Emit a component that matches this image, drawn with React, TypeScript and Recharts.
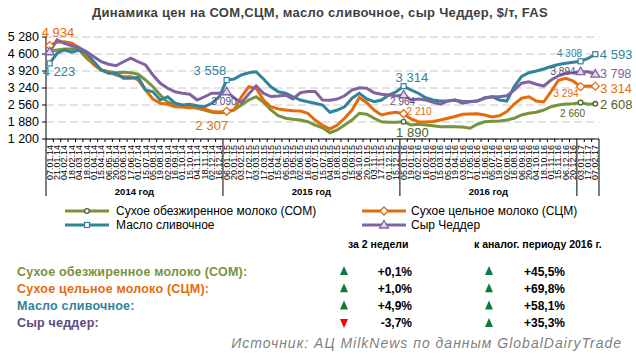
import React from "react";
import { LineChart, Line, XAxis, YAxis, CartesianGrid } from "recharts";

const dates = [
  "07.01.14", "21.01.14", "04.02.14", "18.02.14", "04.03.14", "18.03.14", "01.04.14", "15.04.14", "06.05.14", "20.05.14", "03.06.14", "17.06.14",
  "01.07.14", "15.07.14", "05.08.14", "19.08.14", "02.09.14", "16.09.14", "01.10.14", "15.10.14", "04.11.14", "18.11.14", "02.12.14", "16.12.14",
  "06.01.15", "20.01.15", "03.02.15", "17.02.15", "03.03.15", "17.03.15", "01.04.15", "15.04.15", "05.05.15", "19.05.15", "02.06.15", "16.06.15",
  "01.07.15", "15.07.15", "04.08.15", "18.08.15", "01.09.15", "15.09.15", "06.10.15", "20.10.15", "03.11.15", "17.11.15", "01.12.15", "15.12.15",
  "05.01.16", "19.01.16", "02.02.16", "16.02.16", "01.03.16", "15.03.16", "05.04.16", "19.04.16", "03.05.16", "17.05.16", "01.06.16", "15.06.16",
  "05.07.16", "19.07.16", "02.08.16", "16.08.16", "06.09.16", "20.09.16", "04.10.16", "18.10.16", "01.11.16", "15.11.16", "06.12.16", "20.12.16",
  "03.01.17", "17.01.17", "07.02.17",
];

// СОМ
const som = [
  4690, 4760, 4800, 4800, 4760, 4430, 4190, 3960, 3890, 3850, 3870, 3850, 3790, 3560, 3290, 2960, 2670, 2560, 2520, 2490, 2430, 2360, 2270, 2250,
  2270, 2360, 2560, 2760, 2890, 2670, 2360, 2130, 2030, 1990, 1960, 1890, 1760, 1650, 1450, 1560, 1760, 1960, 2230, 2190, 2030, 1890, 1870, 1870,
  1890, 1760, 1790, 1760, 1730, 1690, 1690, 1690, 1680, 1630, 1790, 1890, 1910, 1920, 1960, 2030, 2160, 2230, 2270, 2360, 2490, 2560, 2600, 2610,
  2660, 2590, 2608,
];
// СЦМ
const scm = [
  4934, 5070, 5090, 5030, 4850, 4560, 4160, 3960, 3890, 3760, 3690, 3690, 3560, 3160, 2800, 2630, 2590, 2490, 2480, 2440, 2480, 2400, 2300, 2280,
  2307, 2360, 2890, 3290, 3230, 2760, 2490, 2400, 2360, 2330, 2320, 2230, 1960, 1750, 1600, 1760, 2030, 2360, 2850, 2650, 2360, 2160, 2230, 2270,
  2210, 2000, 1890, 1880, 1900, 1960, 2030, 2100, 2190, 2200, 2210, 2160, 2080, 2130, 2300, 2600, 2830, 2890, 2720, 2680, 3100, 3550, 3630, 3520,
  3294, 3320, 3314,
];
// масло сливочное
const butter = [
  4223, 4630, 4760, 4670, 4760, 4630, 4290, 3960, 3830, 3830, 3630, 3630, 3670, 3160, 3090, 2760, 2890, 2630, 2560, 2590, 2530, 2490, 2630, 2890,
  3558, 3600, 3760, 3850, 3890, 3600, 3290, 3090, 3030, 2890, 2760, 2690, 2630, 2560, 2270, 2360, 2490, 2830, 3030, 2800, 2690, 2760, 2960, 3090,
  3314, 3160, 3030, 2850, 2760, 2720, 2720, 2760, 2630, 2690, 2720, 2830, 2890, 2760, 2720, 3300, 3700, 3850, 3920, 4000, 4100, 4180, 4230, 4270,
  4308, 4420, 4593,
];
// сыр Чеддер
const cheddar = [
  4690, 5160, 5030, 4930, 4850, 4690, 4490, 4290, 4190, 4130, 4290, 4430, 4290, 4160, 3760, 3430, 3230, 3090, 3030, 2990, 2760, 2890, 3030, 3030,
  3090, 2850, 2650, 3000, 3320, 3030, 2900, 2920, 2950, 2800, 3050, 3100, 3100, 2760, 2750, 2800, 2930, 3160, 3250, 3230, 3050, 2990, 2960, 2920,
  2964, 2760, 2800, 2760, 2670, 2590, 2720, 2760, 2700, 2700, 2720, 2850, 2890, 2890, 2930, 3160, 3430, 3490, 3390, 3320, 3560, 3730, 3830, 3850,
  3894, 3890, 3798,
];

const yTicks = [1200, 1880, 2560, 3240, 3920, 4600, 5280];
const yearNames: Record<string, string> = { "14": "2014 год", "15": "2015 год", "16": "2016 год" };

const tableRows = [
  { name: "Сухое обезжиренное молоко (СОМ):", color: "#77933C", w2: "+0,1%", up2: true, yr: "+45,5%", upYr: true },
  { name: "Сухое цельное молоко (СЦМ):", color: "#E46C0A", w2: "+1,0%", up2: true, yr: "+69,8%", upYr: true },
  { name: "Масло сливочное:", color: "#31849B", w2: "+4,9%", up2: true, yr: "+58,1%", upYr: true },
  { name: "Сыр чеддер:", color: "#604A7B", w2: "-3,7%", up2: false, yr: "+35,3%", upYr: true },
];

const data = dates.map((d, i) => ({ d, som: som[i], scm: scm[i], butter: butter[i], cheddar: cheddar[i] }));

const FONT = "'Liberation Sans', Arial, sans-serif";
const W = 636;
const H = 200;
const LEFT = 46;
const RIGHT = 37;
const STEP = (W - LEFT - RIGHT) / dates.length;

const GREEN = "#77933C";
const ORANGE = "#E46C0A";
const BLUE = "#31849B";
const PURPLE = "#8064A2";

const fmt = (v: number) => String(v).replace(/\B(?=(\d{3})+(?!\d))/g, " ");
const yearOf = (d: string) => d.slice(6);

type Spec = { dx: number; dy: number; anchor: string; size: number; color: string };

function makeLabel(specs: Record<number, Spec>) {
  return (p: any) => {
    const s = specs[p.index];
    if (!s) return <g key={`l${p.index}`} />;
    return (
      <text key={`l${p.index}`} x={p.x + s.dx} y={p.y + s.dy} textAnchor={s.anchor} fontSize={s.size} fill={s.color} fontFamily={FONT}>
        {fmt(p.value)}
      </text>
    );
  };
}

function makeDot(kind: string, marks: number[], color: string) {
  return (p: any) => {
    const { cx, cy, index } = p;
    if (!marks.includes(index)) return <g key={`d${index}`} />;
    if (kind === "circle") return <circle key={`d${index}`} cx={cx} cy={cy} r={2.3} fill="#fff" stroke={color} strokeWidth={1.3} />;
    if (kind === "diamond")
      return <polygon key={`d${index}`} points={`${cx},${cy - 4} ${cx + 4},${cy} ${cx},${cy + 4} ${cx - 4},${cy}`} fill="#fff" stroke={color} strokeWidth={1.3} />;
    if (kind === "square") return <rect key={`d${index}`} x={cx - 2.5} y={cy - 2.5} width={5} height={5} fill="#fff" stroke={color} strokeWidth={1.2} />;
    return <polygon key={`d${index}`} points={`${cx},${cy - 4.5} ${cx + 4.5},${cy + 3} ${cx - 4.5},${cy + 3}`} fill="#E0D8EC" stroke={color} strokeWidth={1.3} />;
  };
}

function DateTick(props: any) {
  const { x, y, payload } = props;
  const idx = dates.indexOf(payload.value);
  const left = x - STEP / 2;
  const yr = yearOf(payload.value);
  const isStart = idx === 0 || yearOf(dates[idx - 1]) !== yr;
  const isLast = idx === dates.length - 1;
  let yearLabel = null;
  const first = dates.findIndex((d) => yearOf(d) === yr);
  let last = first;
  while (last + 1 < dates.length && yearOf(dates[last + 1]) === yr) last++;
  const mid = Math.ceil((first + last) / 2);
  if (idx === mid && yearNames[yr]) {
    yearLabel = (
      <text x={x + ((first + last) / 2 - mid) * STEP} y={y + 56} textAnchor="middle" fontSize={9.5} fontWeight="bold" fill="#000" fontFamily={FONT}>
        {yearNames[yr]}
      </text>
    );
  }
  return (
    <g>
      <line x1={left} y1={y} x2={left} y2={y + (isStart ? 57 : 3)} stroke="#000" strokeWidth={1} />
      {isLast && <line x1={x + STEP / 2} y1={y} x2={x + STEP / 2} y2={y + 57} stroke="#000" strokeWidth={1} />}
      <text x={x + 3} y={y + 6} transform={`rotate(-90 ${x + 3} ${y + 6})`} textAnchor="end" fontSize={9} fill="#000" fontFamily={FONT}>
        {payload.value}
      </text>
      {yearLabel}
    </g>
  );
}

const bigL = 13;
const smallL = 10;

const scmLabels: Record<number, Spec> = {
  0: { dx: -8, dy: -9, anchor: "start", size: bigL, color: ORANGE },
  24: { dx: 1.5, dy: 19, anchor: "end", size: bigL, color: ORANGE },
  48: { dx: 3, dy: 0.8, anchor: "start", size: smallL, color: ORANGE },
  72: { dx: -2, dy: 10, anchor: "end", size: smallL, color: ORANGE },
  74: { dx: 5, dy: 6.5, anchor: "start", size: 12.5, color: ORANGE },
};
const butterLabels: Record<number, Spec> = {
  0: { dx: -7, dy: 13, anchor: "start", size: bigL, color: BLUE },
  24: { dx: -0.5, dy: -5.3, anchor: "end", size: bigL, color: BLUE },
  48: { dx: -8, dy: -4, anchor: "start", size: bigL, color: BLUE },
  72: { dx: 1.5, dy: -4.3, anchor: "end", size: smallL, color: BLUE },
  74: { dx: 4.5, dy: 4.8, anchor: "start", size: bigL, color: BLUE },
};
const cheddarLabels: Record<number, Spec> = {
  24: { dx: -2.6, dy: 13.3, anchor: "middle", size: smallL, color: "#604A7B" },
  48: { dx: -1, dy: 10.3, anchor: "middle", size: smallL, color: "#604A7B" },
  72: { dx: -5, dy: 3, anchor: "end", size: smallL, color: "#604A7B" },
  74: { dx: 4.7, dy: 3.8, anchor: "start", size: 12.5, color: PURPLE },
};
const somLabels: Record<number, Spec> = {
  48: { dx: -7.5, dy: 15, anchor: "start", size: bigL, color: "#4F6228" },
  72: { dx: -8, dy: 14.5, anchor: "middle", size: smallL, color: "#4F6228" },
  74: { dx: 4.7, dy: 5, anchor: "start", size: bigL, color: "#4F6228" },
};

function Tri({ x, y, up }: { x: number; y: number; up: boolean }) {
  const pts = up ? `${x},${y - 5} ${x + 4},${y + 4} ${x - 4},${y + 4}` : `${x - 4},${y - 4} ${x + 4},${y - 4} ${x},${y + 5}`;
  return <polygon points={pts} fill={up ? "#0E7A3B" : "#FF0000"} />;
}

function LegendSample({ x, y, color, kind }: { x: number; y: number; color: string; kind: string }) {
  const cx = x + 22;
  let mark = null;
  if (kind === "circle") mark = <circle cx={cx} cy={y} r={2.3} fill="#fff" stroke="#4F6228" strokeWidth={1.3} />;
  else if (kind === "diamond") mark = <polygon points={`${cx},${y - 4} ${cx + 4},${y} ${cx},${y + 4} ${cx - 4},${y}`} fill="#fff" stroke={color} strokeWidth={1.3} />;
  else if (kind === "square") mark = <rect x={cx - 2.5} y={y - 2.5} width={5} height={5} fill="#fff" stroke={color} strokeWidth={1.2} />;
  else mark = <polygon points={`${cx},${y - 4.5} ${cx + 4.5},${y + 3} ${cx - 4.5},${y + 3}`} fill="#E0D8EC" stroke={color} strokeWidth={1.3} />;
  return (
    <g>
      <line x1={x} y1={y} x2={x + 44} y2={y} stroke={color} strokeWidth={3} />
      {mark}
    </g>
  );
}

export default function App() {
  return (
    <div style={{ position: "absolute", left: 0, top: 0, width: W, height: 355, background: "#fff", fontFamily: FONT }}>
      <div style={{ position: "absolute", left: 0, top: 0 }}>
        <LineChart width={W} height={H} data={data} margin={{ top: 37, right: RIGHT, left: 0, bottom: 0 }}>
          <CartesianGrid vertical={false} stroke="#C8C8C8" strokeDasharray="8 4" />
          <XAxis
            dataKey="d"
            interval={0}
            height={61}
            tickSize={0}
            tickMargin={0}
            tickLine={false}
            axisLine={{ stroke: "#000" }}
            padding={{ left: STEP / 2, right: STEP / 2 }}
            tick={<DateTick />}
          />
          <YAxis
            width={LEFT}
            domain={[1200, 5280]}
            ticks={yTicks}
            interval={0}
            tickSize={4}
            tickMargin={3}
            axisLine={{ stroke: "#000" }}
            tickLine={{ stroke: "#000" }}
            tick={{ fontSize: 12.5, fill: "#000", fontFamily: FONT }}
            tickFormatter={fmt}
          />
          <Line dataKey="som" stroke={GREEN} strokeWidth={3} isAnimationActive={false} dot={makeDot("circle", [48, 72, 74], "#4F6228")} activeDot={false} label={makeLabel(somLabels)} />
          <Line dataKey="scm" stroke={ORANGE} strokeWidth={3} isAnimationActive={false} dot={makeDot("diamond", [0, 24, 48, 72, 74], ORANGE)} activeDot={false} label={makeLabel(scmLabels)} />
          <Line dataKey="butter" stroke={BLUE} strokeWidth={3} isAnimationActive={false} dot={makeDot("square", [0, 24, 48, 72, 74], BLUE)} activeDot={false} label={makeLabel(butterLabels)} />
          <Line dataKey="cheddar" stroke={PURPLE} strokeWidth={3} isAnimationActive={false} dot={makeDot("triangle", [0, 24, 48, 72, 74], PURPLE)} activeDot={false} label={makeLabel(cheddarLabels)} />
        </LineChart>
      </div>
      <svg width={W} height={355} style={{ position: "absolute", left: 0, top: 0, pointerEvents: "none" }} fontFamily={FONT}>
        <text x={320} y={17} textAnchor="middle" fontSize={13} fontWeight="bold" fill="#404040" letterSpacing={0.3}>
          Динамика цен на СОМ,СЦМ, масло сливочное, сыр Чеддер, $/т, FAS
        </text>
        <LegendSample x={65} y={211} color={GREEN} kind="circle" />
        <text x={116} y={215} fontSize={12} fill="#000">Сухое обезжиренное молоко (СОМ)</text>
        <LegendSample x={362} y={211} color={ORANGE} kind="diamond" />
        <text x={411} y={215} fontSize={12} fill="#000">Сухое цельное молоко (СЦМ)</text>
        <LegendSample x={65} y={225} color={BLUE} kind="square" />
        <text x={116} y={229} fontSize={12} fill="#000">Масло сливочное</text>
        <LegendSample x={362} y={225} color={PURPLE} kind="triangle" />
        <text x={411} y={229} fontSize={12} fill="#000">Сыр Чеддер</text>

        <text x={348} y={248} fontSize={10.5} fontWeight="bold" fill="#000">за 2 недели</text>
        <text x={474} y={248} fontSize={10.5} fontWeight="bold" fill="#000">к аналог. периоду 2016 г.</text>
        {tableRows.map((r, i) => {
          const y = 271 + i * 17.3;
          return (
            <g key={r.name}>
              <text x={17} y={y + 4.5} fontSize={12.5} fontWeight="bold" fill={r.color} letterSpacing={0.2}>{r.name}</text>
              <Tri x={344} y={y} up={r.up2} />
              <text x={412} y={y + 4.5} textAnchor="end" fontSize={12} fontWeight="bold" fill="#000">{r.w2}</text>
              <Tri x={489} y={y} up={r.upYr} />
              <text x={565} y={y + 4.5} textAnchor="end" fontSize={12} fontWeight="bold" fill="#000">{r.yr}</text>
            </g>
          );
        })}
        <text x={622} y={348} textAnchor="end" fontSize={14} fontStyle="italic" fill="#7F7F7F" letterSpacing={1}>
          Источник: АЦ MilkNews по данным GlobalDairyTrade
        </text>
      </svg>
    </div>
  );
}
